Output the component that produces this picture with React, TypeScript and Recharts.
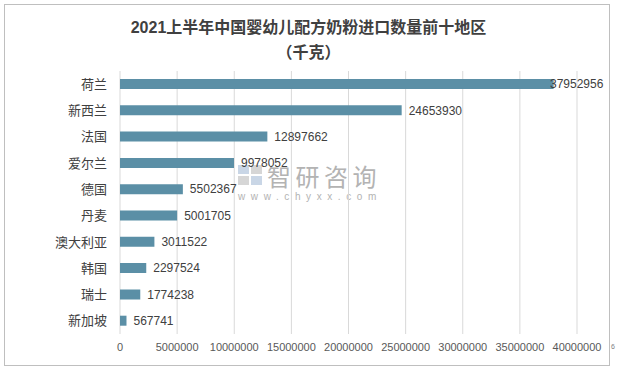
import { BarChart, Bar, XAxis, YAxis, CartesianGrid, LabelList } from 'recharts'

// 2021上半年中国婴幼儿配方奶粉进口数量前十地区（千克）
const regions = ['荷兰', '新西兰', '法国', '爱尔兰', '德国', '丹麦', '澳大利亚', '韩国', '瑞士', '新加坡']
const weights = [37952956, 24653930, 12897662, 9978052, 5502367, 5001705, 3011522, 2297524, 1774238, 567741]
const xTicks = [0, 5000000, 10000000, 15000000, 20000000, 25000000, 30000000, 35000000, 40000000]

const data = regions.map((name, i) => ({ name, value: weights[i] }))

const FONT = "'Liberation Sans', 'Noto Sans CJK SC', sans-serif"
const BAR_COLOR = '#5b8fa6'

// Excel-style label: sits right of the bar but is kept inside the chart box
const ValueLabel = (props: any) => {
  const { x, y, width, height, value } = props
  const lx = Math.min(x + width + 7, 550)
  return (
    <text x={lx} y={y + height / 2} dy="0.35em" fontSize={12} fill="#404040" fontFamily={FONT}>
      {value}
    </text>
  )
}

export default function App() {
  return (
    <div style={{ position: 'fixed', left: 0, top: 0, width: 617, height: 370, background: '#fff', fontFamily: FONT }}>
      {/* chart frame */}
      <div style={{ position: 'absolute', left: 4, top: 4, width: 604, height: 360, border: '1px solid #bfbfbf' }} />

      <div style={{ position: 'absolute', left: 0, top: 17, width: 617, textAlign: 'center', fontSize: 16, fontWeight: 700, color: '#404040', lineHeight: '22px' }}>
        2021上半年中国婴幼儿配方奶粉进口数量前十地区
      </div>
      <div style={{ position: 'absolute', left: 0, top: 42, width: 617, textAlign: 'center', fontSize: 16, fontWeight: 700, color: '#404040', lineHeight: '22px' }}>
        （千克）
      </div>

      {/* watermark, drawn under the chart like the original */}
      <svg style={{ position: 'absolute', left: 238, top: 165 }} width={25} height={21}>
        <rect x={0} y={0} width={11} height={9} fill="#c9d6e6" />
        <rect x={13} y={0} width={11} height={9} fill="#d6d6d6" />
        <rect x={0} y={11} width={11} height={9} fill="#d6d6d6" />
        <rect x={13} y={11} width={11} height={9} fill="#c9d6e6" />
      </svg>
      <div style={{ position: 'absolute', left: 267, top: 162, fontSize: 24, lineHeight: '28px', color: '#b3b3b3', letterSpacing: 4.5, fontFamily: "'Noto Sans CJK SC', sans-serif" }}>
        智研咨询
      </div>
      <div style={{ position: 'absolute', left: 238, top: 190, fontSize: 10, lineHeight: '14px', color: '#b3b3b3', letterSpacing: 5.6 }}>
        www.chyxx.com
      </div>

      <div style={{ position: 'absolute', left: 0, top: 0 }}>
        <BarChart
          width={617}
          height={370}
          data={data}
          layout="vertical"
          margin={{ top: 71, right: 40, bottom: 6, left: 0 }}
          barSize={10}
        >
          <CartesianGrid horizontal={false} stroke="#d9d9d9" />
          <XAxis
            type="number"
            domain={[0, 40000000]}
            ticks={xTicks}
            interval={0}
            axisLine={false}
            tickLine={false}
            tickSize={0}
            tickMargin={9}
            height={30}
            tick={{ fontSize: 11, fill: '#595959', fontFamily: FONT }}
          />
          <YAxis
            type="category"
            dataKey="name"
            width={120}
            axisLine={false}
            tickLine={false}
            tickSize={0}
            tickMargin={13}
            interval={0}
            tick={{ fontSize: 13, fill: '#404040', fontFamily: FONT }}
          />
          <Bar dataKey="value" fill={BAR_COLOR} isAnimationActive={false}>
            <LabelList dataKey="value" content={ValueLabel} />
          </Bar>
        </BarChart>
      </div>

      <div style={{ position: 'absolute', left: 611, top: 343, fontSize: 7, color: '#808080' }}>6</div>
    </div>
  )
}
